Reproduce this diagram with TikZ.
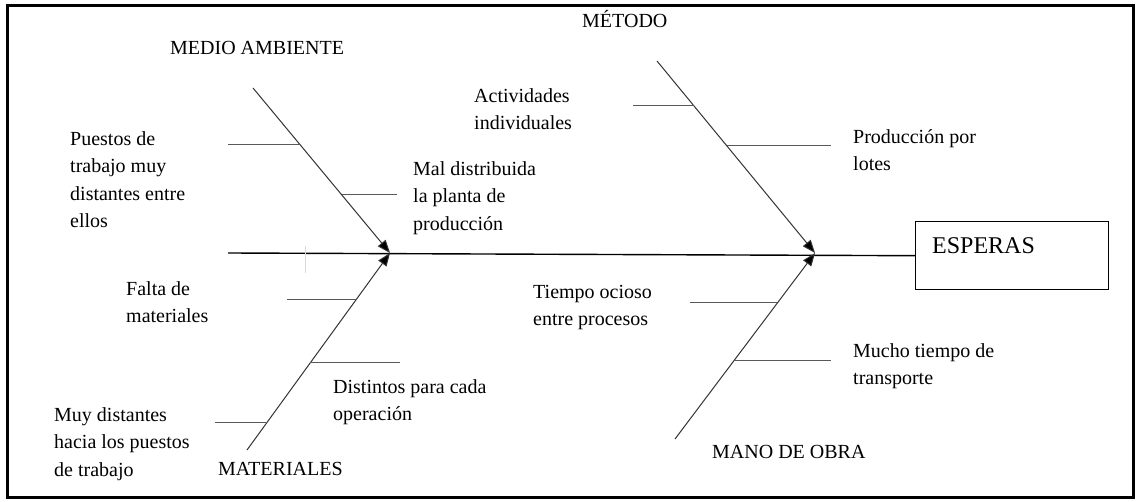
\documentclass[tikz,border=0pt]{standalone}
\usepackage{fontspec}
\setmainfont{Liberation Serif}
\usetikzlibrary{arrows.meta}
\begin{document}
\begin{tikzpicture}[x=1pt,y=-1pt,
  lbl/.style={anchor=north west,inner sep=0pt,align=left,text=black,font=\fontsize{20}{27.5}\selectfont},
  branch/.style={draw=black!80,line width=1pt,-{Triangle[length=13pt,width=10pt,fill=black]}},
  bone/.style={draw=black!65,line width=1pt},
  spine/.style={draw=black,line width=1.4pt},
  frame/.style={draw=black,line width=3pt}]
\useasboundingbox (0,0) rectangle (1138,502);
\draw[frame] (7,6) rectangle (1133,497);

% effect box
\node[draw=black,line width=1.4pt,minimum width=193pt,minimum height=68pt,inner sep=0pt,anchor=north west] (effect) at (915,221) {};
\node[anchor=base west,inner sep=0pt,font=\fontsize{24}{28}\selectfont,text=black] (effecttext) at (932,254) {ESPERAS};

% spine
\coordinate (spineL) at (228,253);
\draw[spine] (spineL) -- (effect.west);

% faint tick
\coordinate (tickA) at (305,246);
\coordinate (tickB) at (305,273);
\draw[black!15,line width=0.8pt] (tickA) -- (tickB);

% heads
\coordinate (headL) at (390,253);
\coordinate (headR) at (815,253);

% branches
\coordinate (maS) at (253,88);
\coordinate (matS) at (247,450);
\coordinate (metS) at (657,61);
\coordinate (moS) at (675,439);
\draw[branch] (maS) -- (headL);
\draw[branch] (matS) -- (headL);
\draw[branch] (metS) -- (headR);
\draw[branch] (moS) -- (headR);

% bones medio ambiente
\coordinate (b1a) at (228,145); \coordinate (b1b) at (300,145);
\coordinate (b2a) at (342,195); \coordinate (b2b) at (397,195);
\draw[bone] (b1a) -- (b1b);
\draw[bone] (b2a) -- (b2b);
% bones materiales
\coordinate (b3a) at (287,300); \coordinate (b3b) at (356,300);
\coordinate (b4a) at (310,363); \coordinate (b4b) at (400,363);
\coordinate (b5a) at (215,423); \coordinate (b5b) at (266,423);
\draw[bone] (b3a) -- (b3b);
\draw[bone] (b4a) -- (b4b);
\draw[bone] (b5a) -- (b5b);
% bones metodo
\coordinate (b6a) at (633,106); \coordinate (b6b) at (694,106);
\coordinate (b7a) at (727,146); \coordinate (b7b) at (831,146);
\draw[bone] (b6a) -- (b6b);
\draw[bone] (b7a) -- (b7b);
% bones mano de obra
\coordinate (b8a) at (690,303); \coordinate (b8b) at (777,303);
\coordinate (b9a) at (734,361); \coordinate (b9b) at (831,361);
\draw[bone] (b8a) -- (b8b);
\draw[bone] (b9a) -- (b9b);

% category labels
\node[lbl] (medio) at (170,34.75) {\strut MEDIO AMBIENTE};
\node[lbl] (metodo) at (582,7.75) {\strut MÉTODO};
\node[lbl] (materiales) at (218,455.75) {\strut MATERIALES};
\node[lbl] (mano) at (712,438.75) {\strut MANO DE OBRA};

% cause labels
\node[lbl] (c1) at (70,125.75) {\strut Puestos de\\trabajo muy\\distantes entre\\ellos};
\node[lbl] (c2) at (413,155.75) {\strut Mal distribuida\\la planta de\\producción};
\node[lbl] (c3) at (126,275.75) {\strut Falta de\\materiales};
\node[lbl] (c4) at (54,401.75) {\strut Muy distantes\\hacia los puestos\\de trabajo};
\node[lbl] (c5) at (333,373.75) {\strut Distintos para cada\\operación};
\node[lbl] (c6) at (474,82.75) {\strut Actividades\\individuales};
\node[lbl] (c7) at (853,123.75) {\strut Producción por\\lotes};
\node[lbl] (c8) at (533,278.75) {\strut Tiempo ocioso\\entre procesos};
\node[lbl] (c9) at (853,337.75) {\strut Mucho tiempo de\\transporte};
\end{tikzpicture}
\end{document}
